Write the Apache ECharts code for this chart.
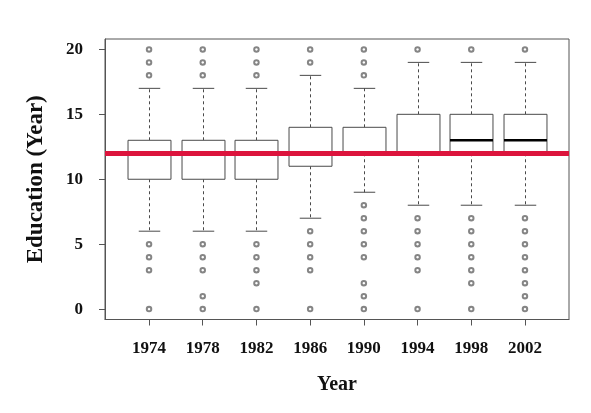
<!DOCTYPE html>
<html>
<head>
<meta charset="utf-8">
<script src="https://cdn.jsdelivr.net/npm/echarts@6/dist/echarts.min.js"></script>
<style>html,body{margin:0;padding:0;background:#fff}#c{width:591px;height:413px}</style>
</head>
<body>
<div id="c"></div>
<script>
const years = ['1974', '1978', '1982', '1986', '1990', '1994', '1998', '2002'];
const lowerWhisker = [6, 6, 6, 7, 9, 8, 8, 8];
const q1 = [10, 10, 10, 11, 12, 12, 12, 12];
const median = [12, 12, 12, 12, 12, 12, 13, 13];
const q3 = [13, 13, 13, 14, 14, 15, 15, 15];
const upperWhisker = [17, 17, 17, 18, 17, 19, 19, 19];
const outliers = [
  [0, 3, 4, 5, 18, 19, 20],
  [0, 1, 3, 4, 5, 18, 19, 20],
  [0, 2, 3, 4, 5, 18, 19, 20],
  [0, 3, 4, 5, 6, 19, 20],
  [0, 1, 2, 4, 5, 6, 7, 8, 18, 19, 20],
  [0, 3, 4, 5, 6, 7, 20],
  [0, 2, 3, 4, 5, 6, 7, 20],
  [0, 1, 2, 3, 4, 5, 6, 7, 20]
];
const yTicks = [0, 5, 10, 15, 20];
const referenceValue = 12;

const boxData = years.map((y, i) => [i + 1, lowerWhisker[i], q1[i], median[i], q3[i], upperWhisker[i]]);
const outlierData = [];
outliers.forEach((arr, i) => arr.forEach(v => outlierData.push([i + 1, v])));

const FONT = '"Liberation Serif", "DejaVu Serif", serif';
const boxColor = '#4a4a4a';

const chart = echarts.init(document.getElementById('c'), null, { renderer: 'canvas' });
chart.setOption({
  animation: false,
  backgroundColor: '#fff',
  grid: { left: 105, right: 22, top: 39, bottom: 93.5, show: true, borderColor: '#555', borderWidth: 1, containLabel: false },
  xAxis: {
    type: 'value', min: 0.18, max: 8.82,
    name: 'Year', nameLocation: 'middle', nameGap: 55,
    nameTextStyle: { fontFamily: FONT, fontWeight: 'bold', fontSize: 20, color: '#111' },
    axisLine: { show: true, onZero: false, lineStyle: { color: '#555' } },
    axisTick: { show: true, length: 6, customValues: years.map((_, i) => i + 1), lineStyle: { color: '#555' } },
    axisLabel: { customValues: years.map((_, i) => i + 1), formatter: v => years[Math.round(v) - 1], margin: 21,
      fontFamily: FONT, fontWeight: 'bold', fontSize: 17, color: '#111' },
    splitLine: { show: false }
  },
  yAxis: {
    type: 'value', min: -0.8, max: 20.8,
    name: 'Education (Year)', nameLocation: 'middle', nameGap: 57, nameRotate: 90,
    nameTextStyle: { fontFamily: FONT, fontWeight: 'bold', fontSize: 23, color: '#111' },
    axisLine: { show: true, onZero: false, lineStyle: { color: '#555' } },
    axisTick: { show: true, length: 6, customValues: yTicks, lineStyle: { color: '#555' } },
    axisLabel: { customValues: yTicks, margin: 22, fontFamily: FONT, fontWeight: 'bold', fontSize: 17, color: '#111' },
    splitLine: { show: false }
  },
  series: [
    {
      type: 'custom',
      z: 2,
      data: boxData,
      renderItem: function (params, api) {
        const x = api.value(0);
        const lo = api.coord([x, api.value(1)]);
        const b1 = api.coord([x, api.value(2)]);
        const md = api.coord([x, api.value(3)]);
        const b3 = api.coord([x, api.value(4)]);
        const hi = api.coord([x, api.value(5)]);
        const bw = api.size([0.8, 0])[0];
        const cw = api.size([0.4, 0])[0];
        const cx = Math.round(lo[0]) + 0.5;
        const dash = { stroke: boxColor, lineWidth: 1, lineDash: [3, 3] };
        const solid = { stroke: boxColor, lineWidth: 1 };
        return {
          type: 'group',
          children: [
            { type: 'line', shape: { x1: cx, y1: b3[1], x2: cx, y2: hi[1] }, style: dash },
            { type: 'line', shape: { x1: cx, y1: b1[1], x2: cx, y2: lo[1] }, style: dash },
            { type: 'line', shape: { x1: cx - cw / 2, y1: hi[1], x2: cx + cw / 2, y2: hi[1] }, style: solid },
            { type: 'line', shape: { x1: cx - cw / 2, y1: lo[1], x2: cx + cw / 2, y2: lo[1] }, style: solid },
            { type: 'rect', shape: { x: cx - bw / 2, y: b3[1], width: bw, height: b1[1] - b3[1] }, style: { fill: '#fff', stroke: boxColor, lineWidth: 1 } },
            { type: 'line', shape: { x1: cx - bw / 2, y1: md[1], x2: cx + bw / 2, y2: md[1] }, style: { stroke: '#000', lineWidth: 2.5 } }
          ]
        };
      }
    },
    {
      type: 'scatter',
      z: 3,
      data: outlierData,
      symbol: 'emptyCircle',
      symbolSize: 4.5,
      itemStyle: { color: '#666', borderColor: '#666', borderWidth: 0.9 }
    },
    {
      type: 'line',
      z: 5,
      data: [],
      markLine: {
        silent: true,
        symbol: 'none',
        label: { show: false },
        lineStyle: { color: '#DC143C', width: 5, type: 'solid' },
        data: [{ yAxis: referenceValue }]
      }
    }
  ]
});
</script>
</body>
</html>
